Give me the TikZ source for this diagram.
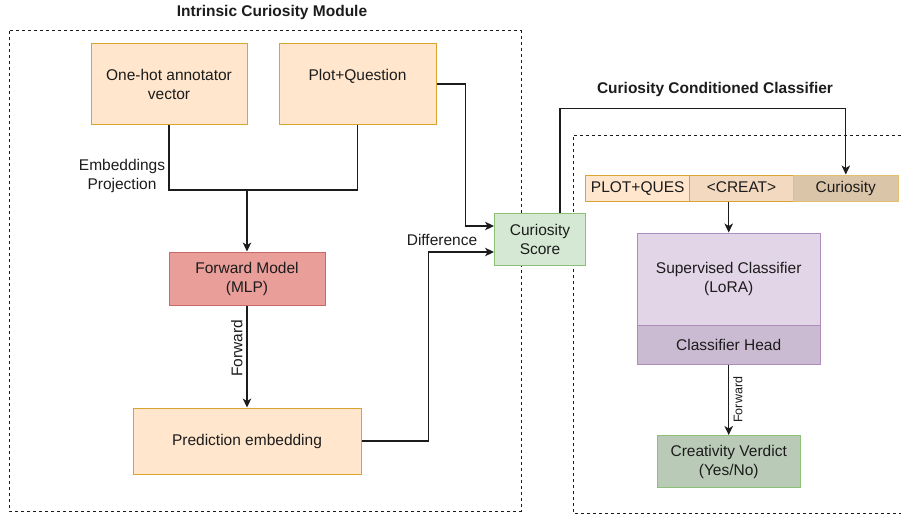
\documentclass[tikz,border=0pt]{standalone}
\usepackage{fontspec}
\setmainfont{Liberation Sans}
\usepackage{xcolor}
\usepackage{tikz}
\usetikzlibrary{arrows.meta, shapes, positioning}

\definecolor{orfill}{HTML}{FFE6CC}
\definecolor{ordraw}{HTML}{D9A431}
\definecolor{redfill}{HTML}{EA9E9A}
\definecolor{reddraw}{HTML}{C96A66}
\definecolor{grfill}{HTML}{D5E8D4}
\definecolor{grdraw}{HTML}{8CC079}
\definecolor{verdfill}{HTML}{B9CBB7}
\definecolor{pufill}{HTML}{E1D5E7}
\definecolor{pudraw}{HTML}{AE8DBE}
\definecolor{headfill}{HTML}{CABBD2}
\definecolor{creatfill}{HTML}{F3D9BF}
\definecolor{curfill}{HTML}{DBC5A9}
\definecolor{txt}{HTML}{1C1C1C}

\begin{document}
\begin{tikzpicture}[
  x=1pt, y=-1pt,
  font=\fontsize{15.5}{19}\selectfont, text=txt,
  block/.style={rectangle, draw, line width=1pt, align=center, inner sep=0pt},
  token/.style={rectangle, draw=ordraw, line width=1pt, minimum height=26pt,
                text height=11.5pt, text depth=3.5pt, inner sep=0pt},
  arr/.style={draw=txt, line width=1.1pt, -{Stealth[length=9pt, width=8.5pt, inset=2.5pt]}},
  link/.style={draw=txt, line width=1.1pt},
  frame/.style={draw=txt, line width=1pt, dash pattern=on 3pt off 3pt}
]
\useasboundingbox (0,0) rectangle (901,516);

% module frames
\draw[frame] (9,31) rectangle (521,511);
\draw[frame] (901,135) -| (573,513) -- (901,513);
\node[font=\fontsize{15.5}{19}\selectfont\bfseries] (icmtitle) at (272,12) {Intrinsic Curiosity Module};
\node[font=\fontsize{15.5}{19}\selectfont\bfseries] (ccctitle) at (715,89) {Curiosity Conditioned Classifier};

% intrinsic curiosity module
\node[block, draw=ordraw, fill=orfill, minimum width=156pt, minimum height=80pt] (onehot) at (169,84) {One-hot annotator\\vector};
\node[block, draw=ordraw, fill=orfill, minimum width=157pt, minimum height=80pt] (plotq) at (357.5,84) {Plot+Question\\\mbox{}};
\node[block, draw=reddraw, fill=redfill, minimum width=156pt, minimum height=53pt] (fwd) at (247,278.5) {Forward Model\\(MLP)};
\node[block, draw=ordraw, fill=orfill, minimum width=228pt, minimum height=66pt] (pred) at (247,441) {Prediction embedding};
\node[block, draw=grdraw, fill=grfill, minimum width=91pt, minimum height=52pt] (cs) at (540,239) {Curiosity\\Score};
\node[align=center] (embproj) at (122,176) {Embeddings\\Projection};
\node (difflbl) at (442,240) {Difference};

\coordinate (join) at (247,190);
\draw[link] (onehot.south) |- (join) -| (plotq.south);
\draw[arr] (join) -- (fwd.north);
\draw[arr] (fwd.south) -- (pred.north)
  node[pos=0.42, rotate=90, anchor=south, inner sep=4pt] (fwdlbl) {Forward};
\draw[arr] (pred.east) -- ++(67,0) |- ([yshift=-13pt]cs.west);
\draw[arr] (plotq.east) -- ++(29,0) |- ([yshift=13pt]cs.west);

% curiosity conditioned classifier
\node[token, fill=orfill, minimum width=104pt] (plotques) at (637.7,188) {PLOT+QUES};
\node[token, fill=creatfill, minimum width=103.6pt] (creat) at (741.5,188) {<CREAT>};
\node[token, fill=curfill, draw=ordraw!70, minimum width=105pt] (curio) at (845.8,188) {Curiosity};
\node[block, draw=pudraw, fill=pufill, minimum width=183pt, minimum height=92pt] (sup) at (728.7,279) {Supervised Classifier\\(LoRA)};
\node[block, draw=pudraw, fill=headfill, minimum width=183pt, minimum height=39pt] (head) at (728.7,344.5) {Classifier Head};
\node[block, draw=grdraw, fill=verdfill, minimum width=143pt, minimum height=52pt] (verdict) at (728.7,461.5) {Creativity Verdict\\(Yes/No)};

\draw[arr] ([xshift=20pt]cs.north) -- ++(0,-104) -| (curio.north);
\draw[arr] (creat.south -| sup.north) -- (sup.north);
\draw[arr] (head.south) -- (verdict.north)
  node[midway, rotate=90, anchor=north, inner sep=4pt, font=\fontsize{12.5}{15}\selectfont] (fwdlbl2) {Forward};
\end{tikzpicture}
\end{document}
